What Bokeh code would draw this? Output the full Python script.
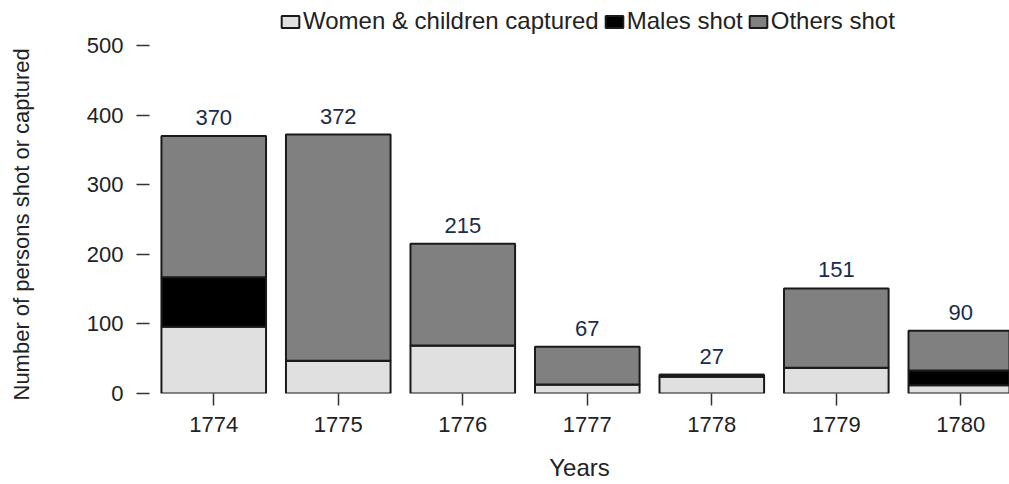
from bokeh.plotting import figure
from bokeh.models import ColumnDataSource, Legend, LegendItem, FixedTicker, Range1d, LabelSet, Title
from bokeh.embed import file_html
from bokeh.resources import INLINE
from bokeh.core.properties import value

years = ["1774", "1775", "1776", "1777", "1778", "1779", "1780"]
women = [96, 47, 69, 13, 24, 37, 12]
males = [71, 0, 0, 0, 3, 0, 21]
others = [203, 325, 146, 54, 0, 114, 57]
series = ["Women & children captured", "Males shot", "Others shot"]
colors = ["#e0e0e0", "#000000", "#808080"]
y_ticks = [0, 100, 200, 300, 400, 500]

FONT = "Liberation Sans"
totals = [w + m + o for w, m, o in zip(women, males, others)]
xs = list(range(len(years)))
src = ColumnDataSource(dict(x=xs, women=women, males=males, others=others,
                            total=totals, label=[str(t) for t in totals]))

p = figure(width=1009, height=484, output_backend="svg", toolbar_location=None,
           x_range=Range1d(-0.516, 6.391), y_range=Range1d(0, 564.7),
           min_border_left=149, min_border_right=0, min_border_top=0, min_border_bottom=91)
p.outline_line_color = None
p.xgrid.visible = False
p.ygrid.visible = False

rs = p.vbar_stack(["women", "males", "others"], x="x", width=0.84, source=src,
                  fill_color=colors, line_color="#1a1a1a", line_width=2)

labels = LabelSet(x="x", y="total", text="label", source=src, text_align="center",
                  text_baseline="alphabetic", y_offset=11, text_font=value(FONT),
                  text_font_size="22px", text_color="#1a2b4c")
p.add_layout(labels)

legend = Legend(items=[LegendItem(label=s, renderers=[r]) for s, r in zip(series, rs)],
                location=(130, 358), orientation="horizontal", padding=0, margin=0,
                spacing=4, label_standoff=2, glyph_width=22, glyph_height=15,
                label_text_font=FONT, label_text_font_size="24px", label_text_color="#222222",
                border_line_color=None, background_fill_alpha=0)
p.add_layout(legend)

for ax in (p.xaxis[0], p.yaxis[0]):
    ax.axis_line_color = None
    ax.major_tick_in = 0
    ax.minor_tick_line_color = None
    ax.major_tick_line_color = "#333333"
    ax.major_tick_line_width = 1.5
    ax.major_label_text_font = FONT
    ax.major_label_text_font_size = "22px"
    ax.major_label_text_color = "#222222"
    ax.axis_label_text_font = FONT
    ax.axis_label_text_font_style = "normal"
    ax.axis_label_text_color = "#222222"

p.xaxis.ticker = FixedTicker(ticks=xs)
p.xaxis.major_label_overrides = {i: y for i, y in enumerate(years)}
p.xaxis.major_tick_out = 12
p.xaxis.major_label_standoff = 11
p.xaxis.axis_label = "Years"
p.xaxis.axis_label_text_font_size = "24px"
p.xaxis.axis_label_standoff = 19

p.yaxis.ticker = FixedTicker(ticks=y_ticks)
p.yaxis.major_tick_out = 13
p.yaxis.major_label_standoff = 13
p.yaxis.axis_label = " "
p.yaxis.axis_label_text_font_size = "22px"
p.yaxis.axis_label_standoff = 21

ytitle = Title(text="Number of persons shot or captured", align="left", vertical_align="middle",
               offset=-7, standoff=0, text_font=FONT, text_font_size="22px",
               text_font_style="normal", text_color="#222222")
p.add_layout(ytitle, "left")

open("out.html", "w").write(file_html(p, INLINE))
